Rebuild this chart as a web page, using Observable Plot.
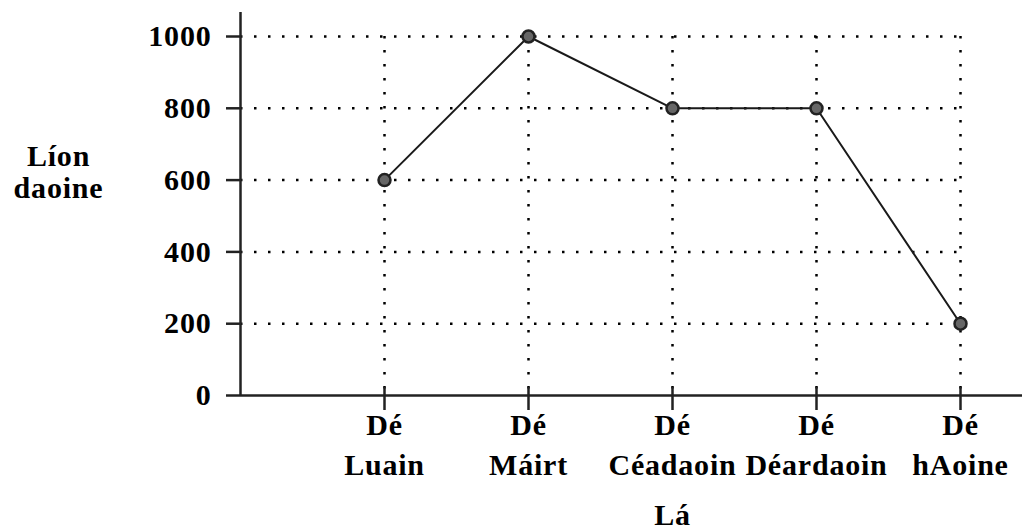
<!DOCTYPE html>
<html>
<head>
<meta charset="utf-8">
<script src="https://cdn.jsdelivr.net/npm/d3@7"></script>
<script src="https://cdn.jsdelivr.net/npm/@observablehq/plot@0.6"></script>
<style>
  html, body { margin: 0; padding: 0; background: #fff; }
  #chart svg { display: block; }
  #chart svg text { letter-spacing: 0.8px; }
</style>
</head>
<body>
<div id="chart"></div>
<script>
const days = ["Dé\nLuain", "Dé\nMáirt", "Dé\nCéadaoin", "Dé\nDéardaoin", "Dé\nhAoine"];
const values = [600, 1000, 800, 800, 200];
const yTicks = [0, 200, 400, 600, 800, 1000];
const yLabel = "Líon\ndaoine";
const xLabel = "Lá";

const data = days.map((d, i) => ({pos: i + 1, day: d, value: values[i]}));
const positions = data.map(d => d.pos);
const font = "'Liberation Serif', 'Times New Roman', serif";
const fs = 30;

const chart = Plot.plot({
  width: 1022,
  height: 530,
  marginLeft: 240,
  marginRight: 62,
  marginTop: 36,
  marginBottom: 135,
  x: {type: "linear", domain: [0, days.length], axis: null, label: null},
  y: {domain: [0, 1000], axis: null, label: null},
  style: {fontFamily: font, background: "#fff", color: "#000"},
  marks: [
    // dotted grid
    Plot.ruleY(yTicks.filter(t => t > 0), {x1: 0, x2: days.length, stroke: "#000", strokeWidth: 2.5, strokeDasharray: "2.5,11.5"}),
    Plot.ruleX(positions, {y1: 1000, y2: 0, stroke: "#000", strokeWidth: 2.5, strokeDasharray: "2.5,11.5"}),
    // axis lines
    Plot.ruleX([0], {y1: 1000, y2: 0, insetTop: -24, stroke: "#222", strokeWidth: 2.5}),
    Plot.ruleY([0], {x1: 0, x2: days.length, insetRight: -62, stroke: "#222", strokeWidth: 2.5}),
    // x ticks crossing axis
    Plot.ruleX(positions, {y1: 0, y2: 0, insetTop: -8, insetBottom: -15, stroke: "#222", strokeWidth: 2.5}),
    // y axis
    Plot.axisY(yTicks, {tickSize: 14, tickPadding: 15, stroke: "#222", strokeWidth: 2.5, label: null,
      tickFormat: d => String(d), fontSize: fs, fontWeight: "bold", fontFamily: font, fill: "#000"}),
    Plot.axisX(positions, {tickSize: 0, tickPadding: 11, tickFormat: p => days[p - 1], label: null,
      fontSize: fs, fontWeight: "bold", fontFamily: font, fill: "#000", lineHeight: 1.33}),
    // labels
    Plot.text([yLabel], {frameAnchor: "top-left", dx: -182, dy: 135, textAnchor: "middle", lineAnchor: "middle",
      fontSize: fs, fontWeight: "bold", fontFamily: font, fill: "#000", lineHeight: 1.07}),
    Plot.text([xLabel], {x: () => (1 + days.length) / 2, frameAnchor: "bottom", dy: 129, lineAnchor: "bottom",
      fontSize: fs, fontWeight: "bold", fontFamily: font, fill: "#000"}),
    // data
    Plot.line(data, {x: "pos", y: "value", stroke: "#1a1a1a", strokeWidth: 2}),
    Plot.dot(data, {x: "pos", y: "value", r: 6, fill: "#666", stroke: "#222", strokeWidth: 2.5})
  ]
});
document.getElementById("chart").appendChild(chart);
</script>
</body>
</html>
